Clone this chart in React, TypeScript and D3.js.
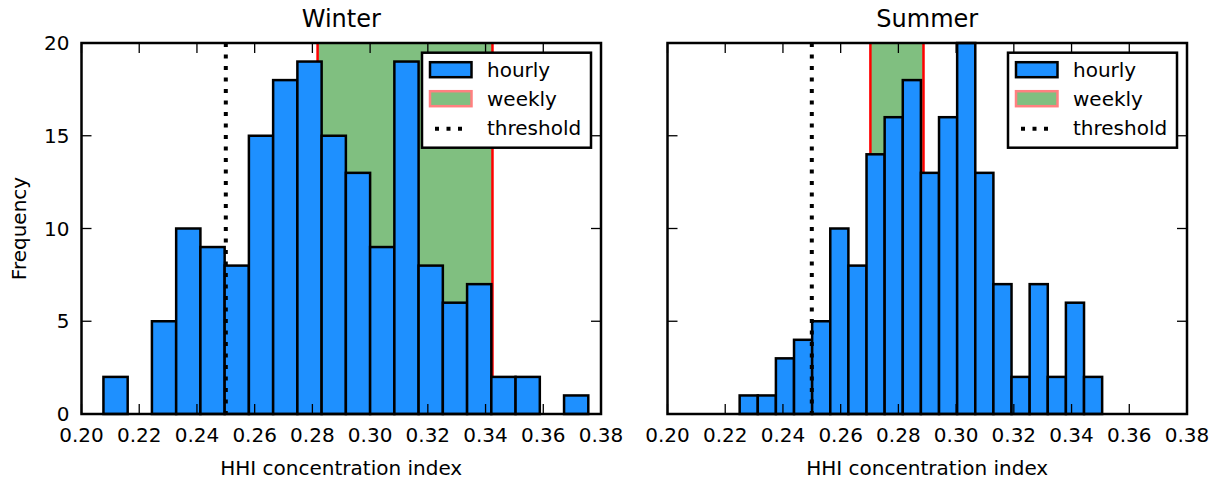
import * as d3 from "d3"

// histogram counts (20 bins each)
const winterCounts = [2, 0, 5, 10, 9, 8, 15, 18, 19, 15, 13, 9, 19, 8, 6, 7, 2, 2, 0, 1]
const summerCounts = [1, 1, 3, 4, 5, 10, 8, 14, 16, 18, 13, 16, 20, 13, 7, 2, 7, 2, 6, 2]

// min / max of the hourly values (bin range)
const winterRange = [0.2076, 0.3756]
const summerRange = [0.225, 0.3506]

// weekly span
const winterWeekly = [0.2818, 0.3424]
const summerWeekly = [0.2703, 0.2887]

const threshold = 0.25

const xTicks = [0.2, 0.22, 0.24, 0.26, 0.28, 0.3, 0.32, 0.34, 0.36, 0.38]
const yTicks = [0, 5, 10, 15, 20]
const legendLabels = ["hourly", "weekly", "threshold"]

const FONT = "DejaVu Sans, sans-serif"
const BLUE = "#1e90ff"
const GREEN = "#80bf80"

const top = 43
const bottom = 414
const panelW = 519.5

const y = d3.scaleLinear().domain([0, 20]).range([bottom, top])

type PanelProps = {
	left: number
	title: string
	counts: number[]
	range: number[]
	weekly: number[]
	showY: boolean
}

const Panel = ({ left, title, counts, range, weekly, showY }: PanelProps) => {
	const x = d3.scaleLinear().domain([0.2, 0.38]).range([left, left + panelW])
	const bin = (range[1] - range[0]) / counts.length
	const bins = counts.map((c, i) => ({ x0: range[0] + i * bin, x1: range[0] + (i + 1) * bin, c }))
	const lx = left + panelW - 10 - 169
	const ly = 52.7

	return (
		<g>
			{/* weekly span */}
			<rect x={x(weekly[0])} y={top} width={x(weekly[1]) - x(weekly[0])} height={bottom - top} fill={GREEN} />
			{weekly.map((w, i) => (
				<line key={i} x1={x(w)} x2={x(w)} y1={top} y2={bottom} stroke="#ff0000" strokeWidth={2.5} />
			))}

			{/* hourly bars */}
			{bins
				.filter((b) => b.c > 0)
				.map((b, i) => (
					<rect
						key={i}
						x={x(b.x0)}
						y={y(b.c)}
						width={x(b.x1) - x(b.x0)}
						height={y(0) - y(b.c)}
						fill={BLUE}
						stroke="black"
						strokeWidth={2.5}
					/>
				))}

			{/* threshold */}
			<line
				x1={x(threshold)}
				x2={x(threshold)}
				y1={top}
				y2={bottom}
				stroke="black"
				strokeWidth={4}
				strokeDasharray="4,7.5"
			/>

			{/* ticks */}
			{xTicks.map((t) => (
				<g key={t}>
					<line x1={x(t)} x2={x(t)} y1={bottom} y2={bottom - 10} stroke="black" strokeWidth={1.3} />
					<line x1={x(t)} x2={x(t)} y1={top} y2={top + 10} stroke="black" strokeWidth={1.3} />
					<text x={x(t)} y={441.5} textAnchor="middle" fontSize={20} fontFamily={FONT}>
						{t.toFixed(2)}
					</text>
				</g>
			))}
			{yTicks.map((t) => (
				<g key={t}>
					<line x1={left} x2={left + 10} y1={y(t)} y2={y(t)} stroke="black" strokeWidth={1.3} />
					<line x1={left + panelW} x2={left + panelW - 10} y1={y(t)} y2={y(t)} stroke="black" strokeWidth={1.3} />
					{showY && (
						<text x={left - 12} y={y(t)} textAnchor="end" dominantBaseline="central" fontSize={20} fontFamily={FONT}>
							{t}
						</text>
					)}
				</g>
			))}

			{/* frame */}
			<rect x={left} y={top} width={panelW} height={bottom - top} fill="none" stroke="black" strokeWidth={2.5} />

			<text x={left + panelW / 2} y={27} textAnchor="middle" fontSize={24} fontFamily={FONT}>
				{title}
			</text>
			<text x={left + panelW / 2} y={475} textAnchor="middle" fontSize={20} fontFamily={FONT}>
				HHI concentration index
			</text>

			{/* legend */}
			<g transform={`translate(${lx},${ly})`}>
				<rect x={0} y={0} width={169} height={95} fill="white" stroke="black" strokeWidth={2.5} />
				<rect x={8} y={9.5} width={41.5} height={15} fill={BLUE} stroke="black" strokeWidth={2.5} />
				<rect x={8} y={38.5} width={41.5} height={15} fill={GREEN} stroke="#ff8080" strokeWidth={2.5} />
				<line x1={13} x2={45} y1={76} y2={76} stroke="black" strokeWidth={4} strokeDasharray="4,7.5" />
				{legendLabels.map((l, i) => (
					<text key={l} x={65} y={17 + i * 29.3} dominantBaseline="central" fontSize={20} fontFamily={FONT}>
						{l}
					</text>
				))}
			</g>
		</g>
	)
}

const App = () => {
	return (
		<svg width={1217} height={481} style={{ position: "absolute", left: 0, top: 0, background: "white" }}>
			<Panel left={81.5} title="Winter" counts={winterCounts} range={winterRange} weekly={winterWeekly} showY={true} />
			<Panel left={667.5} title="Summer" counts={summerCounts} range={summerRange} weekly={summerWeekly} showY={false} />
			<text
				transform="translate(26,228.5) rotate(-90)"
				textAnchor="middle"
				fontSize={20}
				fontFamily={FONT}
			>
				Frequency
			</text>
		</svg>
	)
}

export default App
